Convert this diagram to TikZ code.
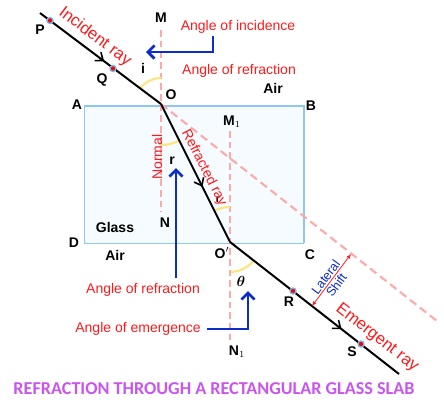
\documentclass[tikz,border=0pt]{standalone}
\usepackage{amsmath}
\usepackage{fontspec}
\setmainfont{Liberation Sans}
\newfontfamily\titlefont{Carlito}
\usetikzlibrary{arrows.meta,decorations.markings}

\definecolor{raypink}{RGB}{255,170,170}
\definecolor{textred}{RGB}{255,25,25}
\definecolor{arrowblue}{RGB}{12,45,200}
\definecolor{arcyellow}{RGB}{255,228,125}
\definecolor{glassfill}{RGB}{245,251,255}
\definecolor{glassedge}{RGB}{140,200,240}
\definecolor{titlepurple}{RGB}{200,85,240}
\definecolor{dotblue}{RGB}{110,185,240}

\tikzset{every picture/.style={line width=0.75pt}}
\tikzset{
  ray/.style={black, line width=1.5pt},
  normalline/.style={raypink, dash pattern=on 5pt off 3pt, line width=0.9pt},
  extline/.style={raypink, dash pattern=on 6pt off 3.5pt, line width=1.6pt},
  anglearc/.style={arcyellow, line width=1.6pt},
  redlabel/.style={textred, font=\fontsize{10.5}{12}\selectfont},
  ptlabel/.style={font=\fontsize{10.5}{12}\selectfont\bfseries},
  bluearrow/.style={arrowblue, line width=2pt, -{Straight Barb[length=5pt,width=10pt]}},
  raydot/.style={circle, draw=dotblue, fill=red, line width=1pt, inner sep=0pt, minimum size=4.5pt},
  midarrow/.style={postaction={decorate}, decoration={markings,
      mark=at position #1 with {\arrow{Straight Barb[length=5pt,width=8pt,line width=1.2pt]}}}}
}

\begin{document}
\begin{tikzpicture}[x=0.75pt,y=0.75pt,yscale=-1,xscale=1]
	\useasboundingbox (0,0) rectangle (444,408);

	% points of the slab and the rays
	\coordinate (cA) at (84,106);
	\coordinate (cB) at (304,106);
	\coordinate (cC) at (304,243);
	\coordinate (cD) at (84,243);
	\coordinate (start) at (40,13);
	\coordinate (O) at (161,104);
	\coordinate (O1) at (230,242);
	\coordinate (end) at (399,374);
	\coordinate (ext) at (437,321);
	\coordinate (Mtop) at (161,30);
	\coordinate (Nbot) at (161,212);
	\coordinate (M1top) at (230,131);
	\coordinate (N1bot) at (230,342);

	%Shape: Rectangle
	\fill [glassfill] (cA) rectangle (cC);
	\draw [glassedge] (cA) -- (cD) -- (cC);
	\draw [glassedge, line width=2pt] (cA) -- (cB) -- (cC);

	%Straight Lines
	\draw [normalline] (Mtop) -- (Nbot);
	\draw [normalline] (M1top) -- (N1bot);
	\draw [extline] (O) -- (ext);

	%Shape: Arc
	\draw [anglearc] (O) ++(217:26) arc[start angle=217, end angle=270, radius=26];
	\draw [anglearc] (O) ++(63:41) arc[start angle=63, end angle=90, radius=41];
	\draw [anglearc] (O1) ++(243:35) arc[start angle=243, end angle=270, radius=35];
	\draw [anglearc] (O1) ++(40:30) arc[start angle=40, end angle=88, radius=30];

	%Straight Lines
	\draw [ray, midarrow=0.53] (start) -- (O);
	\draw [ray, midarrow=0.6] (O) -- (O1);
	\draw [ray, midarrow=0.66] (O1) -- (end);

	%Shape: Circle
	\node [raydot] (dP) at (50,20.5) {};
	\node [raydot] (dQ) at (113,68.5) {};
	\node [raydot] (dR) at (293,291) {};
	\node [raydot] (dS) at (361,344) {};

	% lateral shift
	\coordinate (ls1) at (312,306);
	\coordinate (ls2) at (351,254);
	\draw [textred, line width=0.6pt, {Latex[length=3.5pt,width=3pt]}-{Latex[length=3.5pt,width=3pt]}] (ls1) -- (ls2);

	% blue pointers
	\coordinate (bi1) at (213,36);
	\coordinate (bi2) at (213,52);
	\coordinate (bi3) at (146,52);
	\draw [bluearrow] (bi1) -- (bi2) -- (bi3);
	\coordinate (br1) at (176,278);
	\coordinate (br2) at (176,168);
	\draw [bluearrow] (br1) -- (br2);
	\coordinate (be1) at (207,329);
	\coordinate (be2) at (248,329);
	\coordinate (be3) at (248,291);
	\draw [bluearrow] (be1) -- (be2) -- (be3);

	% Text Node
	\node [ptlabel] (lP) at (40,30) {P};
	\node [ptlabel] (lQ) at (102,80) {Q};
	\node [ptlabel] (lO) at (171,95) {O};
	\node [ptlabel] (lA) at (77,105) {A};
	\node [ptlabel] (lB) at (311,106) {B};
	\node [ptlabel] (lC) at (310,255) {C};
	\node [ptlabel] (lD) at (74,243) {D};
	\node [ptlabel] (lM) at (161,18) {M};
	\node [ptlabel] (lN) at (165,223) {N};
	\node [ptlabel] (lM1) at (232,122) {M$_1$};
	\node [ptlabel] (lN1) at (237,352) {N$_1$};
	\node [ptlabel] (lO1) at (222,253) {O$'$};
	\node [ptlabel] (lR) at (289,302) {R};
	\node [ptlabel] (lS) at (352,352) {S};
	\node [ptlabel] (li) at (143,68) {i};
	\node [ptlabel] (lr) at (172,161) {r};
	\node [ptlabel, font=\fontsize{8}{9}\selectfont\bfseries] (lr1) at (218,200) {r};
	\node [ptlabel] (le) at (241,281) {$\boldsymbol{\theta}$};
	\node [ptlabel] (airtop) at (273,88) {Air};
	\node [ptlabel] (airbot) at (115,255) {Air};
	\node [ptlabel] (glass) at (115,227) {Glass};

	% Text Node
	\node [redlabel] (incid) at (238,27) {Angle of incidence};
	\node [redlabel] (refr) at (239,71) {Angle of refraction};
	\node [redlabel] (refr2) at (143,290) {Angle of refraction};
	\node [redlabel] (emer) at (138,329) {Angle of emergence};
	\node [redlabel, font=\fontsize{12.5}{14}\selectfont, rotate=-37] (incray) at (95,37) {Incident ray};
	\node [redlabel, rotate=-63] (refray) at (204,168) {Refracted ray};
	\node [redlabel, rotate=90] (normal) at (157,157) {Normal};
	\node [redlabel, font=\fontsize{12.5}{14}\selectfont, rotate=-38] (emray) at (377,338) {Emergent ray};
	\node [arrowblue, font=\fontsize{9.5}{10}\selectfont, align=center, rotate=53.6] (shift) at (331,281) {Lateral\\Shift};

	% Text Node
	\node [text=titlepurple, font=\titlefont\fontsize{13.6}{15}\selectfont\bfseries] (title) at (214,389) {REFRACTION THROUGH A RECTANGULAR GLASS SLAB};

\end{tikzpicture}
\end{document}
